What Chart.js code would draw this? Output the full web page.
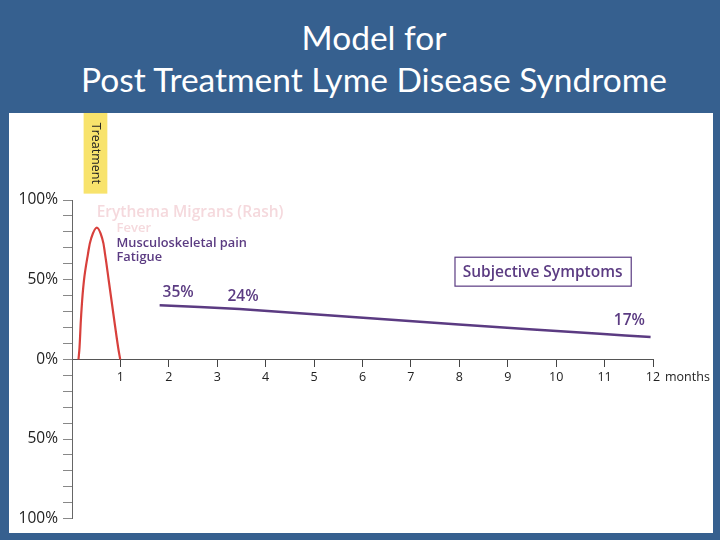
<!DOCTYPE html>
<html><head><meta charset="utf-8">
<script src="https://cdn.jsdelivr.net/npm/chart.js@4.4.0/dist/chart.umd.min.js"></script>
<style>
html,body{margin:0;padding:0;}
body{width:720px;height:540px;background:#36608f;position:relative;overflow:hidden;font-family:"Open Sans",sans-serif;}
#title{position:absolute;left:14px;top:16px;width:720px;text-align:center;color:#fff;font-family:Lato,"Open Sans",sans-serif;font-size:33.5px;line-height:42px;}
#panel{position:absolute;left:9px;top:113px;width:704px;height:420px;background:#fff;}
</style></head>
<body>
<div id="title">Model for<br>Post Treatment Lyme Disease Syndrome</div>
<div id="panel"><canvas id="c" width="704" height="420"></canvas></div>
<script>
// Data
const rashMonths = [0.134, 0.155, 0.19, 0.245, 0.327, 0.397, 0.513, 0.623, 0.685, 0.761, 0.857, 0.954, 0.996];
const rashPct    = [0, 7.3, 28, 49, 65.6, 76, 82.7, 76, 65.6, 49, 28, 7.3, 0];
const symptomMonths = [1.81, 3.46, 5.94, 7.99, 10.90, 11.95];
const symptomPct    = [33.9, 31.6, 26.2, 21.9, 16.0, 14.0];
const xTickLabels = ['', '1','2','3','4','5','6','7','8','9','10','11','12'];
const yTickLabels = {100:'100%', 50:'50%', 0:'0%', '-50':'50%', '-100':'100%'};

const PURPLE = '#5b3b82';
const PINK = '#f5d9dd';

const annot = {
  id: 'annot',
  afterDraw(chart) {
    const {ctx, scales:{x, y}} = chart;
    ctx.save();
    // Treatment box
    const tx0 = x.getPixelForValue(0.24), tx1 = x.getPixelForValue(0.73);
    const ty1 = y.getPixelForValue(104);
    ctx.fillStyle = '#f8e36c';
    ctx.fillRect(tx0, 0, tx1 - tx0, ty1);
    ctx.save();
    ctx.translate((tx0 + tx1) / 2, ty1 / 2);
    ctx.rotate(Math.PI / 2);
    ctx.fillStyle = '#222';
    ctx.font = '12.5px "Open Sans"';
    ctx.textAlign = 'center'; ctx.textBaseline = 'middle';
    ctx.fillText('Treatment', 0, 0);
    ctx.restore();

    const txt = (s, mx, py, font, color, align) => {
      ctx.font = font; ctx.fillStyle = color;
      ctx.textAlign = align || 'left'; ctx.textBaseline = 'middle';
      ctx.fillText(s, x.getPixelForValue(mx), y.getPixelForValue(py));
    };
    txt('Erythema Migrans (Rash)', 0.51, 92, '600 15.5px "Open Sans"', PINK);
    txt('Fever', 0.92, 82, '600 13px "Open Sans"', PINK);
    txt('Musculoskeletal pain', 0.92, 73, '600 12.8px "Open Sans"', PURPLE);
    txt('Fatigue', 0.92, 63.8, '600 12.8px "Open Sans"', PURPLE);
    txt('35%', 1.87, 42, '600 15.5px "Open Sans"', PURPLE);
    txt('24%', 3.21, 39.4, '600 15.5px "Open Sans"', PURPLE);
    txt('17%', 11.19, 24.4, '600 15.5px "Open Sans"', PURPLE);

    // Subjective Symptoms box
    const bx0 = x.getPixelForValue(7.9), bx1 = x.getPixelForValue(11.54);
    const by0 = y.getPixelForValue(64.4), by1 = y.getPixelForValue(46.25);
    ctx.strokeStyle = PURPLE; ctx.lineWidth = 1.2;
    ctx.strokeRect(bx0 + 0.5, by0 + 0.5, bx1 - bx0, by1 - by0);
    ctx.font = '600 15.5px "Open Sans"'; ctx.fillStyle = PURPLE;
    ctx.textAlign = 'center'; ctx.textBaseline = 'middle';
    ctx.fillText('Subjective Symptoms', (bx0 + bx1) / 2, (by0 + by1) / 2 + 1);

    // "months" after the 12 tick label
    ctx.font = '12.5px "Open Sans"'; ctx.fillStyle = '#222';
    ctx.textAlign = 'left';
    ctx.fillText('months', x.getPixelForValue(12) + 12, y.getPixelForValue(0) + 18);
    ctx.restore();
  }
};

new Chart(document.getElementById('c'), {
  type: 'line',
  data: {
    datasets: [
      {
        data: rashMonths.map((m, i) => ({x: m, y: rashPct[i]})),
        borderColor: '#d8403c', borderWidth: 2.2, pointRadius: 0,
        tension: 0.4, fill: false
      },
      {
        data: symptomMonths.map((m, i) => ({x: m, y: symptomPct[i]})),
        borderColor: PURPLE, borderWidth: 2.5, pointRadius: 0,
        tension: 0.2, fill: false
      }
    ]
  },
  options: {
    responsive: false, animation: false,
    layout: { padding: { top: 87, bottom: 13, right: 60, left: 0 } },
    plugins: { legend: {display: false}, tooltip: {enabled: false}, title: {display: false} },
    scales: {
      x: {
        type: 'linear', min: 0, max: 12, position: {y: 0},
        ticks: { stepSize: 1, autoSkip: false, maxRotation: 0, padding: 4,
          color: '#222', font: {family: 'Open Sans', size: 12.5},
          callback: v => xTickLabels[v] },
        grid: { drawOnChartArea: false, drawTicks: true, tickLength: 7, color: '#444', lineWidth: 1 },
        border: { display: true, color: '#555', width: 1 }
      },
      y: {
        type: 'linear', min: -100, max: 100,
        afterFit: s => { s.width = 63; },
        ticks: { stepSize: 10, autoSkip: false, padding: 5,
          color: '#222', font: {family: 'Open Sans', size: 15.5},
          callback: v => (yTickLabels[v] !== undefined ? yTickLabels[v] : '') },
        grid: { drawOnChartArea: false, drawTicks: true, tickLength: 9, color: '#888', lineWidth: 1 },
        border: { display: true, color: '#666', width: 1 }
      }
    }
  },
  plugins: [annot]
});
</script>
</body></html>
